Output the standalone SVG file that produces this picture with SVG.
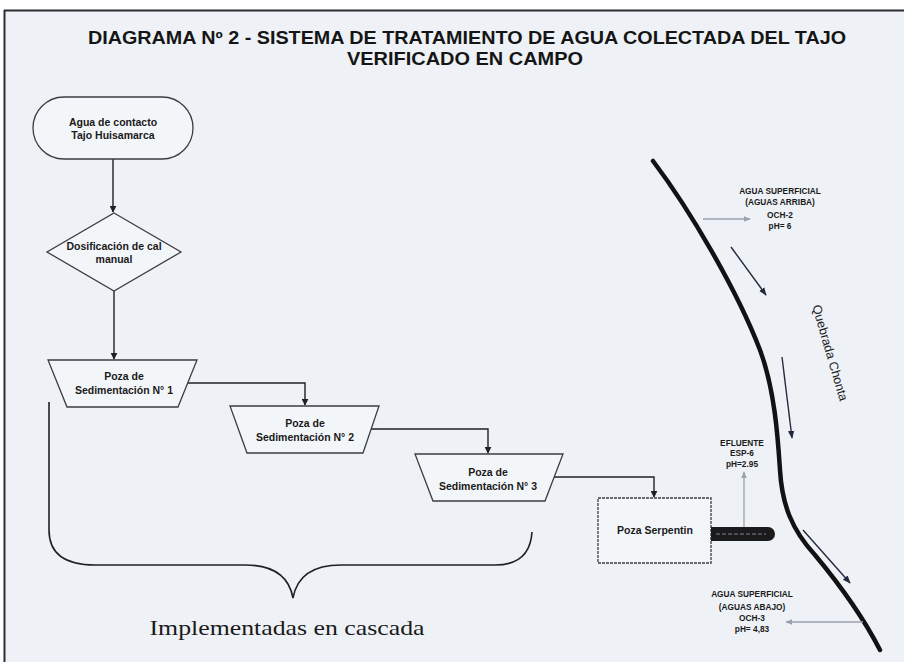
<svg xmlns="http://www.w3.org/2000/svg" width="904" height="662" viewBox="0 0 904 662">
<defs>
<style>
.bg{fill:#eef2f6}
.shape{fill:#f3f6f9;stroke:#3a3d44;stroke-width:1.3}
.conn{fill:none;stroke:#1e2026;stroke-width:1.4}
.grey{fill:none;stroke:#9aa2ad;stroke-width:1.3}
.flow{fill:none;stroke:#23283d;stroke-width:1.4}
.t{font-family:"Liberation Sans",Arial,sans-serif;font-weight:bold;fill:#1a1a1a;text-anchor:middle}
.n{font-size:10.5px}
.s{font-size:8.3px}
.title{font-family:"Liberation Sans Narrow","Liberation Sans",Arial,sans-serif;font-weight:bold;font-size:18px;fill:#151515;text-anchor:middle}
</style>
<marker id="ah" viewBox="0 0 10 10" refX="9" refY="5" markerWidth="7" markerHeight="7" orient="auto" markerUnits="userSpaceOnUse">
<path d="M0,0 L10,5 L0,10 z" fill="#1e2026"/>
</marker>
<marker id="ahg" viewBox="0 0 10 10" refX="9" refY="5" markerWidth="7" markerHeight="7" orient="auto" markerUnits="userSpaceOnUse">
<path d="M0,1 L10,5 L0,9 z" fill="#9aa2ad"/>
</marker>
<marker id="ahf" viewBox="0 0 10 10" refX="9" refY="5" markerWidth="8" markerHeight="8" orient="auto" markerUnits="userSpaceOnUse">
<path d="M0,1 L10,5 L0,9 z" fill="#23283d"/>
</marker>
</defs>
<rect x="0" y="0" width="904" height="662" fill="#ffffff"/>
<rect class="bg" x="4" y="10" width="900" height="652"/>
<line x1="4" y1="10.5" x2="904" y2="10.5" stroke="#2a2c30" stroke-width="2"/>
<line x1="4.5" y1="10" x2="4.5" y2="662" stroke="#2a2c30" stroke-width="2"/>

<g id="title">
<text class="title" x="467" y="44" textLength="758" lengthAdjust="spacingAndGlyphs">DIAGRAMA Nº 2 - SISTEMA DE TRATAMIENTO DE AGUA COLECTADA DEL TAJO</text>
<text class="title" x="465" y="65" textLength="236" lengthAdjust="spacingAndGlyphs">VERIFICADO EN CAMPO</text>
</g>

<g id="connectors">
<path class="conn" d="M113,159 V212" marker-end="url(#ah)"/>
<path class="conn" d="M114,291 V359" marker-end="url(#ah)"/>
<path class="conn" d="M188,383 H305 V405" marker-end="url(#ah)"/>
<path class="conn" d="M371,429 H488 V453" marker-end="url(#ah)"/>
<path class="conn" d="M554,477 H654 V497" marker-end="url(#ah)"/>
</g>

<g id="n1">
<rect class="shape" x="33" y="97" width="160" height="62" rx="31"/>
<text class="t n" x="113" y="126">Agua de contacto</text>
<text class="t n" x="113" y="139">Tajo Huisamarca</text>
</g>

<g id="n2">
<polygon class="shape" points="114,213 181,252 114,291 47,252"/>
<text class="t n" x="114" y="250">Dosificación de cal</text>
<text class="t n" x="114" y="263">manual</text>
</g>

<g id="n3">
<polygon class="shape" points="48,360 197,360 178,407 67,407"/>
<text class="t n" x="124" y="380">Poza de</text>
<text class="t n" x="124" y="394">Sedimentación N° 1</text>
</g>

<g id="n4">
<polygon class="shape" points="230,406 379,406 363,453 247,453"/>
<text class="t n" x="305" y="427">Poza de</text>
<text class="t n" x="305" y="441">Sedimentación N° 2</text>
</g>

<g id="n5">
<polygon class="shape" points="415,454 563,454 545,501 433,501"/>
<text class="t n" x="488" y="476">Poza de</text>
<text class="t n" x="488" y="490">Sedimentación N° 3</text>
</g>

<g id="n6">
<rect class="shape" x="598" y="498" width="113" height="65" stroke-dasharray="3,1"/>
<text class="t n" x="655" y="534">Poza Serpentin</text>
</g>

<g id="pipe">
<path d="M711,527 H768 A7,7 0 0 1 768,541 H711 Z" fill="#1b1b1d"/>
<line x1="716" y1="534" x2="766" y2="534" stroke="#7d8590" stroke-width="1" stroke-dasharray="4,2"/>
</g>

<g id="brace">
<path d="M49,402 V530 Q49,565 95,565 H245 Q287,565 293,598 Q299,565 341,565 H495 Q530,565 532,532" fill="none" stroke="#1e2026" stroke-width="1.6"/>
<text x="287" y="635" font-family="'Liberation Serif','Times New Roman',serif" font-size="22" fill="#1a1a1a" text-anchor="middle" textLength="275" lengthAdjust="spacingAndGlyphs">Implementadas en cascada</text>
</g>

<g id="river">
<path d="M653,161 C690,210 737,290 760,350 C775,390 778,440 780,470 C782,505 792,530 815,555 C840,585 862,615 880,650" fill="none" stroke="#121214" stroke-width="4.5" stroke-linecap="round"/>
<text x="0" y="0" font-family="'Liberation Sans',Arial,sans-serif" font-size="12.5" fill="#1a1a1a" text-anchor="middle" transform="translate(826,354) rotate(73.8)">Quebrada Chonta</text>
<path class="flow" d="M731,247 L766,295" marker-end="url(#ahf)"/>
<path class="flow" d="M782,357 L792,438" marker-end="url(#ahf)"/>
<path class="flow" d="M803,530 L850,583" marker-end="url(#ahf)"/>
</g>

<g id="och2">
<path class="grey" d="M703,219 H750" marker-end="url(#ahg)"/>
<text class="t s" x="780" y="194">AGUA SUPERFICIAL</text>
<text class="t s" x="780" y="205">(AGUAS ARRIBA)</text>
<text class="t s" x="780" y="218">OCH-2</text>
<text class="t s" x="780" y="229">pH= 6</text>
</g>

<g id="esp6">
<path class="grey" d="M744,527 V472" marker-end="url(#ahg)"/>
<text class="t s" x="742" y="446">EFLUENTE</text>
<text class="t s" x="742" y="456">ESP-6</text>
<text class="t s" x="742" y="467">pH=2.95</text>
</g>

<g id="och3">
<path class="grey" d="M863,622 H786" marker-end="url(#ahg)"/>
<text class="t s" x="752" y="597">AGUA SUPERFICIAL</text>
<text class="t s" x="752" y="610">(AGUAS ABAJO)</text>
<text class="t s" x="752" y="621">OCH-3</text>
<text class="t s" x="752" y="632">pH= 4,83</text>
</g>
</svg>
